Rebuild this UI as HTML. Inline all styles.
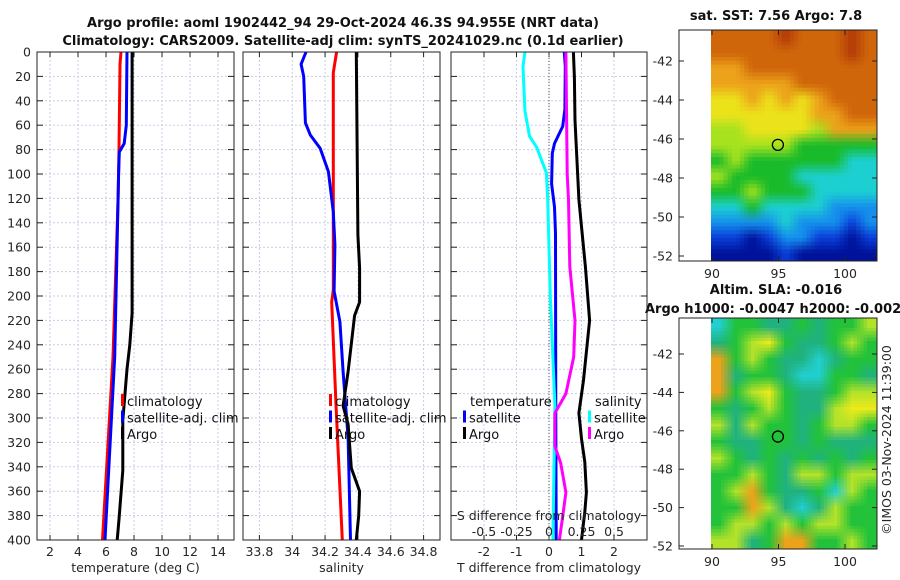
<!DOCTYPE html>
<html><head><meta charset="utf-8"><style>
body{margin:0;background:#fff;}
svg{display:block;font-family:"DejaVu Sans","Liberation Sans",sans-serif;}
</style></head><body>
<svg id="c" width="900" height="580" viewBox="0 0 900 580" xmlns="http://www.w3.org/2000/svg">
<defs>
<clipPath id="cm1"><rect x="711" y="30" width="166" height="231"/></clipPath>
<clipPath id="cm2"><rect x="711" y="318" width="166" height="231"/></clipPath>
</defs>
<text x="343" y="27" text-anchor="middle" font-size="13" font-weight="bold" fill="#111">Argo profile: aoml 1902442_94 29-Oct-2024 46.3S 94.955E (NRT data)</text>
<text x="343" y="45" text-anchor="middle" font-size="13" font-weight="bold" fill="#111">Climatology: CARS2009. Satellite-adj clim: synTS_20241029.nc (0.1d earlier)</text>
<text x="776" y="20" text-anchor="middle" font-size="13" font-weight="bold" fill="#111">sat. SST: 7.56 Argo: 7.8</text>
<text x="776" y="294" text-anchor="middle" font-size="13" font-weight="bold" fill="#111">Altim. SLA: -0.016</text>
<text x="645" y="313" font-size="13" font-weight="bold" fill="#111">Argo h1000: -0.0047 h2000: -0.002</text>
<text transform="translate(891,440) rotate(-90)" text-anchor="middle" font-size="12.5" fill="#262626">©IMOS 03-Nov-2024 11:39:00</text>
<g id="g"></g>
</svg>
<script>
// ---- data ----
const depthTicks=[0,20,40,60,80,100,120,140,160,180,200,220,240,260,280,300,320,340,360,380,400];
const tTicks=[2,4,6,8,10,12,14];
const sTicks=[33.8,34,34.2,34.4,34.6,34.8];
const dTTicks=[-2,-1,0,1,2];
const dSTicks=[-0.5,-0.25,0,0.25,0.5];
const dSTickLabels=["-0.5","-0.25","0","0.25","0.5"];
const tClimD=[0,10,80,120,250,400];
const tClimV=[7.07,7.0,6.93,6.86,6.5,5.75];
const tSatD=[0,60,75,82,100,250,400];
const tSatV=[7.5,7.45,7.3,6.95,6.9,6.62,5.93];
const tArgoD=[0,100,214,240,260,302,343,383,400];
const tArgoV=[7.86,7.86,7.86,7.7,7.5,7.2,7.2,6.93,6.8];
const sClimD=[0,17,195,205,291,400];
const sClimV=[34.27,34.25,34.25,34.24,34.267,34.305];
const sSatD=[0,10,20,40,58,68,79,98,131,158,196,221,262,316,400];
const sSatV=[34.084,34.054,34.07,34.075,34.08,34.11,34.17,34.22,34.25,34.26,34.255,34.29,34.31,34.34,34.355];
const sArgoD=[0,150,177,205,216,262,290,305,341,360,380,400];
const sArgoV=[34.39,34.40,34.41,34.41,34.38,34.34,34.31,34.34,34.36,34.41,34.405,34.39];
const dSsatD=[0,12,48,69,78,99,121,200,290,400];
const dSsatV=[-0.185,-0.2,-0.185,-0.15,-0.095,-0.02,-0.01,0.01,0.045,0.03];
const dTsatD=[0,12,47,61,75,83,108,127,149,300,400];
const dTsatV=[0.47,0.5,0.49,0.42,0.17,0.1,0.08,0.17,0.2,0.21,0.22];
const dSargoD=[0,100,121,176,220,250,280,296,323,337,361,377,400];
const dSargoV=[0.13,0.14,0.15,0.16,0.2,0.19,0.13,0.045,0.045,0.09,0.13,0.11,0.08];
const dTargoD=[0,21,56,121,149,176,220,269,296,317,336,361,377,400];
const dTargoV=[0.75,0.78,0.8,0.92,1.02,1.12,1.25,1.06,0.92,1.0,1.1,1.15,1.1,1.0];
const latTicks=[-42,-44,-46,-48,-50,-52];
const lonTicks=[90,95,100];
const sstGrid=["8888988898","8888888898","7788888888","7777788888","6676767888","6666667788","5566665777","5555544444","4544444433","5444433333","4454443333","3343333222","2222322212","1101221101","0000100000"];
const slaGrid=["cggttgtggy","tgyYgttgyg","ogygttctgg","otggtccggt","ogyYgttgyy","gtgygttyYY","ytyggtgyyg","gttggtgttt","ygtgtgtgtg","ggygtyygyy","gyogttgcyg","ggoytctygg","gyygygyygg","yytgooggyg"];
const sstPal={"0":[0,18,154],"1":[10,63,216],"2":[21,144,236],"3":[28,207,208],"4":[25,187,42],"5":[166,226,30],"6":[236,226,26],"7":[236,162,26],"8":[208,102,10],"9":[178,58,8]};
const slaPal={c:[34,207,208],t:[32,178,126],g:[34,194,58],y:[178,226,42],Y:[236,234,26],o:[236,162,26]};

const NS="http://www.w3.org/2000/svg";
const G=document.getElementById('g');
function el(t,a,p){const e=document.createElementNS(NS,t);for(const k in a)e.setAttribute(k,a[k]);(p||G).appendChild(e);return e;}
const Y0=52,Y1=540;
const yD=d=>Y0+d*(Y1-Y0)/400;
function mkX(x0,x1,v0,v1){return v=>x0+(v-v0)*(x1-x0)/(v1-v0);}
const panels=[
 {x0:37,x1:234,sx:mkX(37,234,1.07,15.14),ticks:tTicks,labels:tTicks.map(String),xl:"temperature (deg C)",name:"temperature-panel"},
 {x0:243,x1:440,sx:mkX(243,440,33.7,34.9),ticks:sTicks,labels:sTicks.map(String),xl:"salinity",name:"salinity-panel"},
 {x0:451,x1:647,sx:mkX(451,647,-3.015,3.015),ticks:dTTicks,labels:dTTicks.map(String),xl:"T difference from climatology",name:"difference-panel"}
];
panels.forEach((p,pi)=>{
 const g=el('g',{});
 
 
 p.ticks.forEach(t=>{const x=p.sx(t);
  const l=el('line',{x1:x,x2:x,y1:Y0,y2:Y1,stroke:"#c9cbe8","stroke-dasharray":"2,2","stroke-width":1},g);
  
  el('line',{x1:x,x2:x,y1:Y1,y2:Y1-5,stroke:"#222"},g);el('line',{x1:x,x2:x,y1:Y0,y2:Y0+5,stroke:"#222"},g);
 });
 p.ticks.forEach((t,i)=>{const tx=el('text',{x:p.sx(t),y:556,"text-anchor":"middle","font-size":12.5,fill:"#262626"},g);tx.textContent=p.labels[i];
  });
 depthTicks.forEach(d=>{const y=yD(d);
  if(d>0&&d<400){const l=el('line',{x1:p.x0,x2:p.x1,y1:y,y2:y,stroke:"#c9cbe8","stroke-dasharray":"2,2"},g);
   }
  el('line',{x1:p.x0,x2:p.x0+6,y1:y,y2:y,stroke:"#222"},g);el('line',{x1:p.x1,x2:p.x1-6,y1:y,y2:y,stroke:"#222"},g);
  if(pi===0){const tx=el('text',{x:31,y:y+4.5,"text-anchor":"end","font-size":12.5,fill:"#262626"},g);tx.textContent=d;
   }
 });
 const xl=el('text',{x:(p.x0+p.x1)/2,y:572,"text-anchor":"middle","font-size":12.5,fill:"#262626"},g);xl.textContent=p.xl;
 
 p.g=g;
});
function line(p,D,V,sx,col,name){
 const pts=D.map((d,i)=>sx(V[i]).toFixed(1)+","+yD(d).toFixed(1)).join(" ");
 const l=el('polyline',{points:pts,fill:"none",stroke:col,"stroke-width":3,"stroke-linejoin":"round"},p.g);
 
}
const P=panels;
line(P[0],tClimD,tClimV,P[0].sx,"#f00","temp-climatology-line");
line(P[0],tSatD,tSatV,P[0].sx,"#00f","temp-satellite-line");
line(P[0],tArgoD,tArgoV,P[0].sx,"#000","temp-argo-line");
line(P[1],sClimD,sClimV,P[1].sx,"#f00","sal-climatology-line");
line(P[1],sSatD,sSatV,P[1].sx,"#00f","sal-satellite-line");
line(P[1],sArgoD,sArgoV,P[1].sx,"#000","sal-argo-line");
const zl=el('line',{x1:549,x2:549,y1:Y0,y2:Y1,stroke:"#555","stroke-dasharray":"1,2"},P[2].g);

const sS=mkX(451,647,-0.75375,0.75375);
line(P[2],dTsatD,dTsatV,P[2].sx,"#00f","dT-satellite-line");
line(P[2],dSsatD,dSsatV,sS,"#0ff","dS-satellite-line");
line(P[2],dSargoD,dSargoV,sS,"#f0f","dS-argo-line");
line(P[2],dTargoD,dTargoV,P[2].sx,"#000","dT-argo-line");
const st=el('text',{x:549,y:520,"text-anchor":"middle","font-size":12.5,fill:"#262626"},P[2].g);st.textContent="S difference from climatology";

dSTicks.forEach((t,i)=>{const tx=el('text',{x:sS(t),y:536,"text-anchor":"middle","font-size":12.5,fill:"#262626"},P[2].g);tx.textContent=dSTickLabels[i];
 });
P.forEach(p=>{const r=el('rect',{x:p.x0,y:Y0,width:p.x1-p.x0,height:Y1-Y0,fill:"none",stroke:"#222","stroke-width":1},p.g);
 });
function leg(g,x,y,col,txt){
 const m=el('rect',{x:x-3,y:y-7,width:3,height:12,fill:col},g);
 
 const t=el('text',{x:x+3,y:y+5,"font-size":13,fill:"#111"},g);t.textContent=txt;
 
}
[["#f00","climatology"],["#00f","satellite-adj. clim"],["#000","Argo"]].forEach((e,i)=>{leg(P[0].g,124,401+i*16.5,e[0],e[1]);leg(P[1].g,332,401+i*16.5,e[0],e[1]);});
let t1=el('text',{x:470,y:406,"font-size":13,fill:"#111"},P[2].g);t1.textContent="temperature";

let t2=el('text',{x:595,y:406,"font-size":13,fill:"#111"},P[2].g);t2.textContent="salinity";

leg(P[2].g,466,417.5,"#00f","satellite");leg(P[2].g,466,434,"#000","Argo");
leg(P[2].g,591,417.5,"#0ff","satellite");leg(P[2].g,591,434,"#f0f","Argo");
// maps (bilinear-smoothed heatmaps)
function map(top,grid,pal,name,lat42,lat52,up){
 const g=el('g',{});
 const ly=v=>lat42+(v+42)*(lat52-lat42)/(-10);
 const lx=v=>712+(v-90)*(845-712)/10;
 const gi=el('g',{"clip-path":"url(#"+(name==="sst-map"?"cm1":"cm2")+")"},g);
 const rows=grid.length,cols=grid[0].length;
 const NR=rows*up,NC=cols*up,cw=166/NC,ch=(top[1]-top[0])/NR;
 const cv=(r,c)=>pal[grid[Math.max(0,Math.min(rows-1,r))][Math.max(0,Math.min(cols-1,c))]];
 for(let i=0;i<NR;i++)for(let j=0;j<NC;j++){
  const fr=(i+0.5)/up-0.5,fc=(j+0.5)/up-0.5;
  const r0=Math.floor(fr),c0=Math.floor(fc),a=fr-r0,b=fc-c0;
  const A=cv(r0,c0),B=cv(r0,c0+1),C=cv(r0+1,c0),D=cv(r0+1,c0+1);
  const col=[0,1,2].map(k=>Math.round(A[k]*(1-a)*(1-b)+B[k]*(1-a)*b+C[k]*a*(1-b)+D[k]*a*b));
  const c=el('rect',{x:(711+j*cw).toFixed(2),y:(top[0]+i*ch).toFixed(2),width:(cw+0.6).toFixed(2),height:(ch+0.6).toFixed(2),fill:"rgb("+col.join(",")+")"},gi);
  
  
 }
 const cc=el('circle',{cx:lx(94.955),cy:ly(-46.3),r:5.5,fill:"none",stroke:"#000","stroke-width":1.3},g);
 
 el('rect',{x:679,y:top[0],width:198,height:top[1]-top[0],fill:"none",stroke:"#222"},g);
 latTicks.forEach(v=>{const y=ly(v);el('line',{x1:679,x2:684,y1:y,y2:y,stroke:"#222"},g);el('line',{x1:877,x2:872,y1:y,y2:y,stroke:"#222"},g);
  const t=el('text',{x:673,y:y+4.5,"text-anchor":"end","font-size":12.5,fill:"#262626"},g);t.textContent=v;
  });
 lonTicks.forEach(v=>{const x=lx(v);el('line',{x1:x,x2:x,y1:top[1],y2:top[1]-5,stroke:"#222"},g);el('line',{x1:x,x2:x,y1:top[0],y2:top[0]+5,stroke:"#222"},g);
  const t=el('text',{x:x,y:top[1]+17,"text-anchor":"middle","font-size":12.5,fill:"#262626"},g);t.textContent=v;
  });
}
map([30,261],sstGrid,sstPal,"sst-map",61,256,4);
map([318,549],slaGrid,slaPal,"sla-map",354,546,5);
</script>
</body></html>
